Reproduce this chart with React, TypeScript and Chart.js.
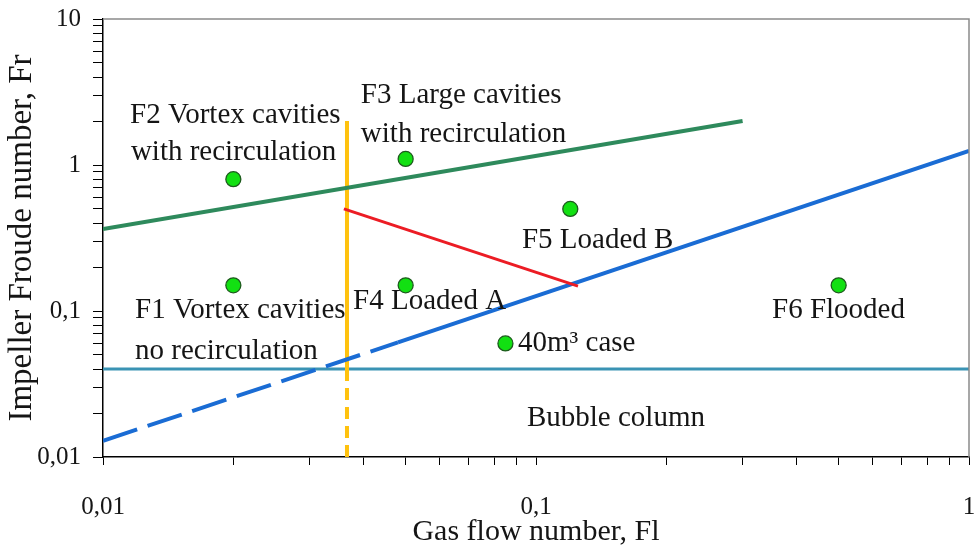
import React, { useEffect, useRef } from 'react';
import { Chart, registerables } from 'chart.js';

Chart.register(...registerables);

// Axis ticks
const X_MAJOR = [0.01, 0.1, 1];
const X_TICK_LABELS = ['0,01', '0,1', '1'];
const Y_MAJOR = [0.01, 0.1, 1, 10];
const Y_TICK_LABELS = ['0,01', '0,1', '1', '10'];

// Regime points (green dots)
const POINT_X = [0.02, 0.02, 0.05, 0.05, 0.12, 0.085, 0.5];
const POINT_Y = [0.8, 0.15, 1.1, 0.15, 0.5, 0.06, 0.15];

// Boundary lines
const GREEN_X = [0.01, 0.3];
const GREEN_Y = [0.365, 2.0];
const BLUE_DASH_X = [0.01, 0.048];
const BLUE_DASH_Y = [0.0129, 0.061];
const BLUE_X = [0.048, 1];
const BLUE_Y = [0.061, 1.25];
const RED_X = [0.036, 0.125];
const RED_Y = [0.5, 0.148];
const YELLOW_X = [0.0366, 0.0366];
const YELLOW_Y = [2.0, 0.04];
const YELLOW_DASH_X = [0.0366, 0.0366];
const YELLOW_DASH_Y = [0.04, 0.01];
const BUBBLE_X = [0.01, 1];
const BUBBLE_Y = [0.04, 0.04];

// Region labels (left edge x, vertical centre y, in data units)
const LABEL_TEXT = [
  'F2 Vortex cavities',
  'with recirculation',
  'F3 Large cavities',
  'with recirculation',
  'F5 Loaded B',
  'F1 Vortex cavities',
  'no recirculation',
  'F4 Loaded A',
  '40m³ case',
  'F6 Flooded',
  'Bubble column',
];
const LABEL_X = [0.01155, 0.0116, 0.0394, 0.0394, 0.0928, 0.01186, 0.01186, 0.0378, 0.0909, 0.3508, 0.0953];
const LABEL_Y = [2.2, 1.22, 3.01, 1.63, 0.306, 0.1016, 0.0532, 0.117, 0.0604, 0.1016, 0.0185];

const SERIF = "'Liberation Serif', 'Times New Roman', serif";

const zip = (xs: number[], ys: number[]) => xs.map((x, i) => ({ x, y: ys[i] }));

function logTicks(min: number, max: number) {
  const out: number[] = [];
  for (let e = Math.round(Math.log10(min)); e < Math.round(Math.log10(max)); e++) {
    for (let m = 1; m < 10; m++) out.push(m * Math.pow(10, e));
  }
  out.push(max);
  return out;
}

function labelFor(v: number, majors: number[], labels: string[]) {
  const i = majors.findIndex((m) => Math.abs(m - v) / m < 1e-6);
  return i >= 0 ? labels[i] : '';
}

const overlay = {
  id: 'overlay',
  afterDatasetsDraw(chart: any) {
    const { ctx, chartArea, scales } = chart;
    ctx.save();
    ctx.strokeStyle = '#8a8a8a';
    ctx.lineWidth = 1.5;
    ctx.beginPath();
    ctx.moveTo(chartArea.left, chartArea.top);
    ctx.lineTo(chartArea.right, chartArea.top);
    ctx.lineTo(chartArea.right, chartArea.bottom);
    ctx.stroke();
    ctx.font = `29px ${SERIF}`;
    ctx.fillStyle = '#151515';
    ctx.textAlign = 'left';
    ctx.textBaseline = 'middle';
    LABEL_TEXT.forEach((t, i) => {
      ctx.fillText(t, scales.x.getPixelForValue(LABEL_X[i]), scales.y.getPixelForValue(LABEL_Y[i]));
    });
    ctx.restore();
  },
};

export default function App() {
  const ref = useRef<HTMLCanvasElement>(null);

  useEffect(() => {
    if (!ref.current) return;
    const lineBase = { showLine: true, pointRadius: 0, tension: 0, fill: false };
    const chart = new Chart(ref.current, {
      type: 'scatter',
      data: {
        datasets: [
          {
            label: 'Regimes',
            data: zip(POINT_X, POINT_Y),
            backgroundColor: '#12e012',
            borderColor: '#1d5a1d',
            borderWidth: 1.3,
            pointRadius: 7.5,
            showLine: false,
          },
          { ...lineBase, label: 'Red', data: zip(RED_X, RED_Y), borderColor: '#ec1c24', borderWidth: 3 },
          { ...lineBase, label: 'Green', data: zip(GREEN_X, GREEN_Y), borderColor: '#2e8a5c', borderWidth: 4 },
          { ...lineBase, label: 'Blue', data: zip(BLUE_X, BLUE_Y), borderColor: '#1a6cd4', borderWidth: 4 },
          {
            ...lineBase,
            label: 'Blue dashed',
            data: zip(BLUE_DASH_X, BLUE_DASH_Y),
            borderColor: '#1a6cd4',
            borderWidth: 4,
            borderDash: [36, 11],
          },
          { ...lineBase, label: 'Yellow', data: zip(YELLOW_X, YELLOW_Y), borderColor: '#ffc20e', borderWidth: 4 },
          {
            ...lineBase,
            label: 'Yellow dashed',
            data: zip(YELLOW_DASH_X, YELLOW_DASH_Y),
            borderColor: '#ffc20e',
            borderWidth: 4,
            borderDash: [12, 7],
          },
          { ...lineBase, label: 'Bubble', data: zip(BUBBLE_X, BUBBLE_Y), borderColor: '#3a93b4', borderWidth: 3 },
        ],
      },
      options: {
        responsive: false,
        animation: false,
        layout: { autoPadding: false, padding: { top: 19, right: 5, left: 0, bottom: 0 } },
        plugins: { legend: { display: false }, tooltip: { enabled: false } },
        scales: {
          x: {
            type: 'logarithmic',
            min: 0.01,
            max: 1,
            afterBuildTicks: (scale: any) => {
              scale.ticks = logTicks(0.01, 1).map((v) => ({ value: v }));
            },
            afterFit: (scale: any) => {
              scale.height = 92;
              scale.paddingLeft = 0;
              scale.paddingRight = 0;
            },
            border: { color: '#000', width: 1.5 },
            grid: { drawOnChartArea: false, drawTicks: true, tickLength: 8, color: '#000', tickColor: '#000', tickWidth: 1 },
            ticks: {
              autoSkip: false,
              maxRotation: 0,
              padding: 27,
              color: '#151515',
              font: { family: SERIF, size: 25 },
              callback: (v: any) => labelFor(Number(v), X_MAJOR, X_TICK_LABELS),
            },
            title: {
              display: true,
              text: 'Gas flow number, Fl',
              color: '#151515',
              font: { family: SERIF, size: 30, lineHeight: 1 },
              padding: { top: 0, bottom: 2 },
            },
          },
          y: {
            type: 'logarithmic',
            min: 0.01,
            max: 10,
            afterBuildTicks: (scale: any) => {
              scale.ticks = logTicks(0.01, 10).map((v) => ({ value: v }));
            },
            afterFit: (scale: any) => {
              scale.width = 103;
              scale.paddingTop = 0;
              scale.paddingBottom = 0;
            },
            border: { color: '#000', width: 1.5 },
            grid: { drawOnChartArea: false, drawTicks: true, tickLength: 10, color: '#000', tickColor: '#000', tickWidth: 1 },
            ticks: {
              autoSkip: false,
              padding: 12,
              color: '#151515',
              font: { family: SERIF, size: 25 },
              callback: (v: any) => labelFor(Number(v), Y_MAJOR, Y_TICK_LABELS),
            },
            title: {
              display: true,
              text: 'Impeller Froude number, Fr',
              color: '#151515',
              font: { family: SERIF, size: 33, lineHeight: 1 },
              padding: { top: 6, bottom: 0 },
            },
          },
        },
      },
      plugins: [overlay],
    });
    return () => chart.destroy();
  }, []);

  return (
    <div style={{ position: 'fixed', left: 0, top: 0, width: 974, height: 549, background: '#fff' }}>
      <canvas ref={ref} width={974} height={549} style={{ display: 'block' }} />
    </div>
  );
}
